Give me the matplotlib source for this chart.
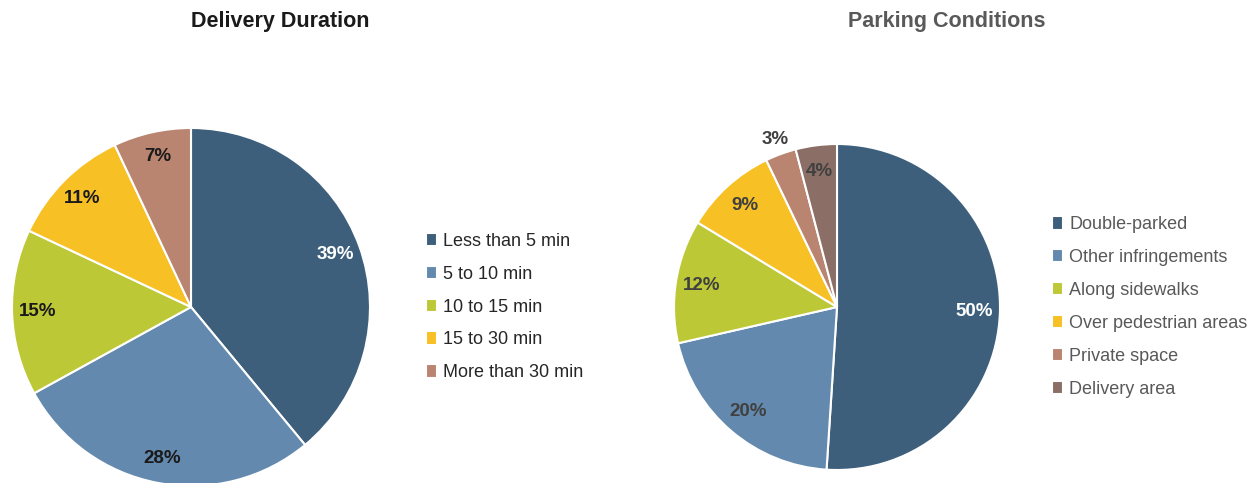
import matplotlib
matplotlib.use("Agg")
import matplotlib.pyplot as plt

plt.rcParams['font.family'] = ['Liberation Sans', 'DejaVu Sans']

# delivery duration shares (%)
duration_labels = ["Less than 5 min", "5 to 10 min", "10 to 15 min", "15 to 30 min", "More than 30 min"]
duration_values = [39, 28, 15, 11, 7]

# parking condition shares (%)
parking_labels = ["Double-parked", "Other infringements", "Along sidewalks",
                  "Over pedestrian areas", "Private space", "Delivery area"]
parking_values = [50, 20, 12, 9, 3, 4]

duration_colors = ["#3e5f7c", "#638aae", "#bdc836", "#f7c024", "#b98470"]
parking_colors = ["#3e5f7c", "#638aae", "#bdc836", "#f7c024", "#b98470", "#8b6f66"]

W, H = 1258, 483
fig = plt.figure(figsize=(W / 100, H / 100), dpi=100)
ax = fig.add_axes([0, 0, 1, 1])


def draw_pie(values, colors, center, radius, pctdist, text_colors):
    wedges, texts, autotexts = ax.pie(
        values, colors=colors, center=center, radius=radius,
        startangle=90, counterclock=False,
        autopct=lambda p: "", pctdistance=pctdist,
        wedgeprops=dict(edgecolor="white", linewidth=1.5))
    # put the stated values as labels
    for t, v, c in zip(autotexts, values, text_colors):
        t.set_text("%d%%" % v)
        t.set_color(c)
        t.set_fontsize(13.5)
        t.set_fontweight('bold')
    return wedges, autotexts


w1, a1 = draw_pie(duration_values, duration_colors, (191, H - 307), 179, 0.86,
                  ["white", "#1a1a1a", "#1a1a1a", "#1a1a1a", "#1a1a1a"])
w2, a2 = draw_pie(parking_values, parking_colors, (837, H - 307), 163, 0.84,
                  ["white", "#404040", "#404040", "#404040", "#404040", "#404040"])

# pie() resets the limits, so set them afterwards
ax.set_xlim(0, W)
ax.set_ylim(0, H)
ax.set_aspect('equal')
ax.axis('off')

# the small private-space slice gets its label just outside the pie
x, y = a2[4].get_position()
cx, cy = 837, H - 307
a2[4].set_position((cx + (x - cx) * 1.3, cy + (y - cy) * 1.3))

ax.text(280, H - 22, "Delivery Duration", ha='center', va='center',
        fontsize=15.5, fontweight='bold', color="#1a1a1a")
ax.text(947, H - 22, "Parking Conditions", ha='center', va='center',
        fontsize=15.5, fontweight='bold', color="#595959")

leg_opts = dict(loc='center left', bbox_transform=ax.transData, frameon=False,
                fontsize=13, handlelength=0.6, handleheight=0.75,
                handletextpad=0.35, labelspacing=0.88)
leg1 = ax.legend(w1, duration_labels, bbox_to_anchor=(410, H - 307),
                 labelcolor="#262626", **leg_opts)
ax.add_artist(leg1)
ax.legend(w2, parking_labels, bbox_to_anchor=(1036, H - 307),
          labelcolor="#595959", **leg_opts)

fig.savefig("out.png", dpi=100)
